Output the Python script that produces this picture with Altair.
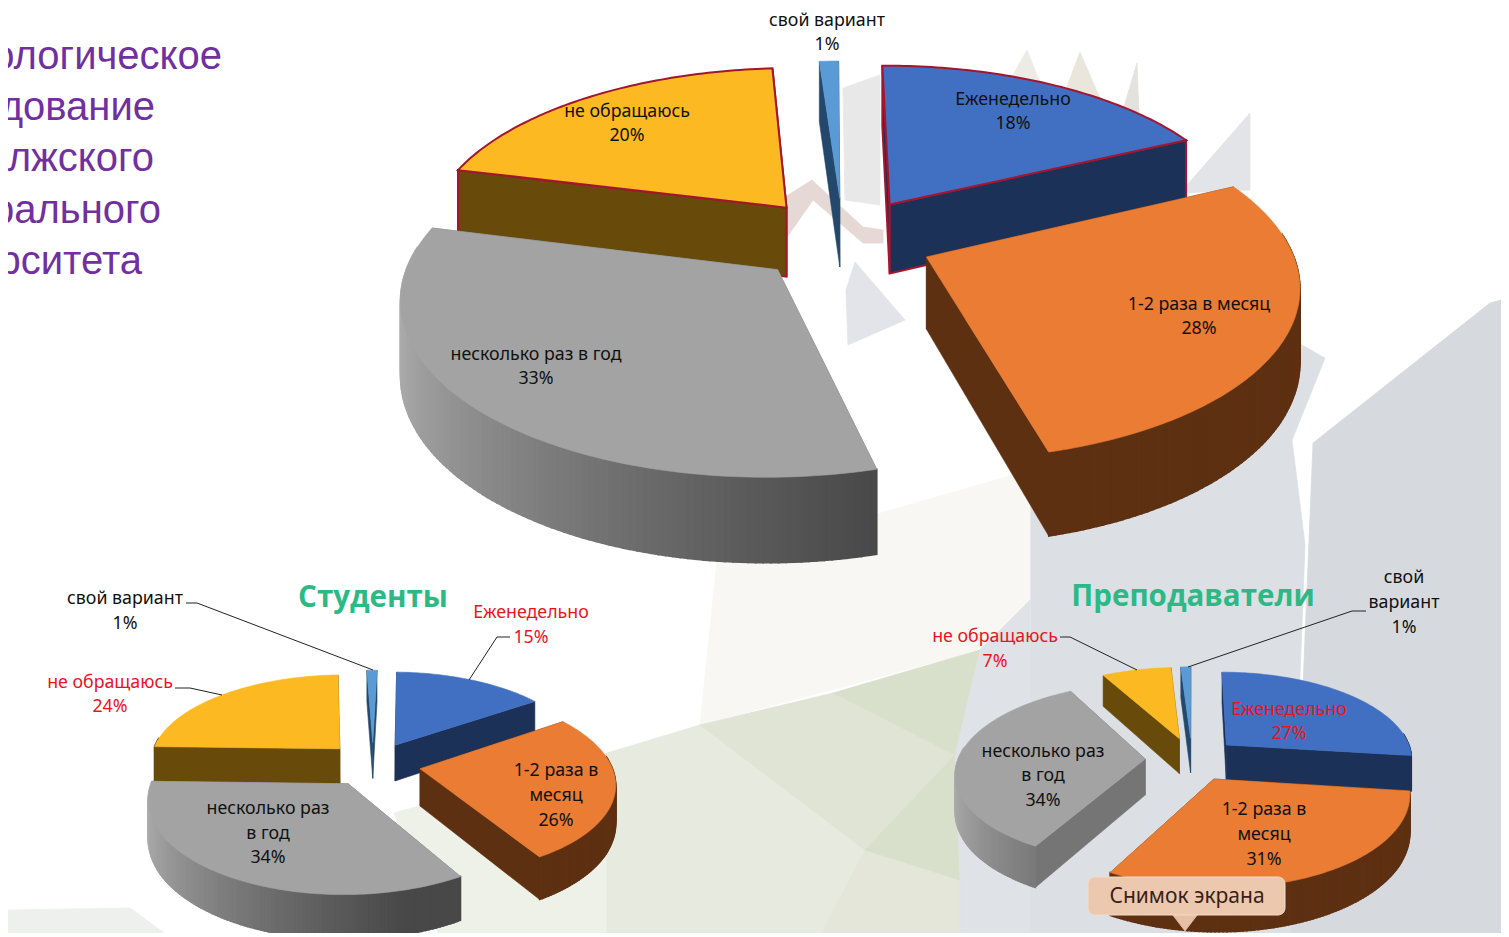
import math
import altair as alt
import pandas as pd

# ---------- data ----------
categories = ["Еженедельно", "1-2 раза в месяц", "несколько раз в год", "не обращаюсь", "свой вариант"]
main_values = [18, 28, 33, 20, 1]
students_values = [15, 26, 34, 24, 1]
teachers_values = [27, 31, 34, 7, 1]

top_colors = ["#4170C2", "#EA7C33", "#A3A3A3", "#FDB922", "#5B9BD5"]
side_colors = ["#1C3158", "#5E3012", "#808080", "#684A0A", "#24486C"]

# ---------- pie layout: centre, radii, perspective, depth, rotation, explosion ----------
pies = [
    dict(v=main_values, cx=843, cy=239, R=362, Rt=168, k=0.144, d=71, rot=-0.3, e=0.25, red=True),
    dict(v=students_values, cx=373, cy=764, R=191, Rt=88.6, k=0.144, d=37, rot=1.5, e=0.25, red=False),
    dict(v=teachers_values, cx=1192, cy=759, R=187, Rt=87, k=0.144, d=36, rot=0, e=0.25, red=False),
]

# ---------- faint decorative backdrop ----------
backdrop = [
    ("#d6dade", [(1313, 443), (1490, 303), (1509, 298), (1509, 937), (1250, 937), (1300, 760)]),
    ("#dcdfe4", [(1293, 340), (1325, 358), (1292, 440), (1305, 545), (1290, 937), (1030, 937), (1030, 500), (1060, 420)]),
    ("#f9f7f4", [(717, 560), (1030, 470), (1030, 640), (980, 650), (700, 725)]),
    ("#eef1e8", [(394, 813), (607, 753), (610, 937), (440, 937)]),
    ("#e6eadf", [(607, 753), (700, 725), (865, 850), (820, 937), (607, 937)]),
    ("#dfe4d4", [(700, 725), (833, 693), (955, 755), (865, 850)]),
    ("#d8dfca", [(833, 693), (980, 650), (955, 755)]),
    ("#e3e6d8", [(865, 850), (960, 880), (960, 937), (820, 937)]),
    ("#d8dfca", [(955, 755), (960, 880), (865, 850)]),
    ("#dfe2e6", [(980, 650), (1030, 600), (1030, 937), (960, 937), (960, 880), (955, 755)]),
    ("#ecebe6", [(1027, 50), (1045, 95), (1010, 80)]),
    ("#ebe6dc", [(1080, 52), (1105, 110), (1062, 100)]),
    ("#e4e2de", [(1137, 63), (1140, 140), (1120, 120)]),
    ("#e8e8e8", [(843, 88), (880, 75), (880, 205), (845, 200)]),
    ("#e6d9d5", [(785, 197), (812, 180), (863, 227), (883, 230), (883, 243), (863, 243), (813, 200), (785, 240)]),
    ("#e3e4e8", [(1180, 193), (1250, 113), (1250, 190)]),
    ("#e2e4e9", [(848, 345), (846, 290), (855, 262), (905, 320)]),
    ("#eef0ee", [(8, 910), (130, 908), (170, 937), (8, 937)]),
]

# ---------- labels ----------
BLACK = "#111111"
RED = "#E8141E"
label_text = [
    "свой вариант", f"{main_values[4]}%", "Еженедельно", f"{main_values[0]}%",
    "1-2 раза в месяц", f"{main_values[1]}%", "несколько раз в год", f"{main_values[2]}%",
    "не обращаюсь", f"{main_values[3]}%",
    "свой вариант", f"{students_values[4]}%", "Еженедельно", f"{students_values[0]}%",
    "не обращаюсь", f"{students_values[3]}%", "1-2 раза в", "месяц", f"{students_values[1]}%",
    "несколько раз", "в год", f"{students_values[2]}%",
    "свой", "вариант", f"{teachers_values[4]}%", "не обращаюсь", f"{teachers_values[3]}%",
    "Еженедельно", f"{teachers_values[0]}%", "1-2 раза в", "месяц", f"{teachers_values[1]}%",
    "несколько раз", "в год", f"{teachers_values[2]}%",
]
label_x = [827, 827, 1013, 1013, 1199, 1199, 536, 536, 627, 627,
           125, 125, 531, 531, 110, 110, 556, 556, 556, 268, 268, 268,
           1404, 1404, 1404, 995, 995, 1289, 1289, 1264, 1264, 1264, 1043, 1043, 1043]
label_y = [20, 44, 99, 123, 304, 328, 354, 378, 111, 135,
           598, 623, 612, 637, 682, 706, 770, 795, 820, 808, 833, 857,
           577, 602, 627, 636, 661, 709, 733, 809, 834, 859, 751, 775, 800]
label_color = [BLACK] * 10 + [BLACK, BLACK, RED, RED, RED, RED] + [BLACK] * 6 + \
              [BLACK, BLACK, BLACK, RED, RED, RED, RED] + [BLACK] * 6

chart_titles = ["Студенты", "Преподаватели"]
chart_title_x = [373, 1193]
chart_title_y = [597, 596]

heading_lines = ["Социологическое", "исследование", "Поволжского", "федерального", "университета"]
heading_right = [222, 155, 154, 161, 142]
heading_y = [56, 107, 158, 210, 261]

leader_x = [186, 197, 510, 497, 175, 190, 1060, 1070, 1366, 1352]
leader_y = [603, 603, 637, 637, 688, 688, 637, 637, 611, 611]
leader_x2 = [197, 373, 497, 469, 190, 222, 1070, 1137, 1352, 1188]
leader_y2 = [603, 670, 637, 680, 688, 695, 637, 670, 611, 667]

badge_text = "Снимок экрана"


# ---------- geometry from the percentages ----------
def hex_gray(level):
    level = int(max(0, min(255, level)))
    return f"#{level:02x}{level:02x}{level:02x}"


def feature(color, pts, stroke=None, width=0.8):
    ring = [[round(x, 2), round(y, 2)] for x, y in pts]
    ring.append(ring[0])
    return {"type": "Feature",
            "properties": {"c": color, "s": stroke or color, "w": width},
            "geometry": {"type": "Polygon", "coordinates": [ring]}}


def slice_features(p):
    out = []
    total = sum(p["v"])
    a0 = p["rot"]
    slices = []
    for i, val in enumerate(p["v"]):
        a1 = a0 + 360 * val / total
        slices.append((i, a0, a1))
        a0 = a1

    def mid_cos(s):
        return math.cos(math.radians((s[1] + s[2]) / 2))

    for i, a0, a1 in sorted(slices, key=mid_cos, reverse=True):
        mid = math.radians((a0 + a1) / 2)
        ox, oy = p["e"] * math.sin(mid), p["e"] * math.cos(mid)

        def proj(u, v):
            w = 1 + p["k"] * v
            return p["cx"] + p["R"] * u / w, p["cy"] - p["Rt"] * v / w, p["d"] / w

        def rim(deg):
            r = math.radians(deg)
            return ox + math.sin(r), oy + math.cos(r)

        steps = max(3, int((a1 - a0) / 1.0))
        angles = [a0 + (a1 - a0) * j / steps for j in range(steps + 1)]
        walls = []
        red = p["red"] and i in (0, 3)
        edge = "#A3162F" if red else None
        for j in range(steps):
            if math.cos(math.radians((angles[j] + angles[j + 1]) / 2)) > 0.12:
                continue  # the far side of the rim is hidden behind the top face
            u1, v1 = rim(angles[j])
            u2, v2 = rim(angles[j + 1])
            x1, y1, d1 = proj(u1, v1)
            x2, y2, d2 = proj(u2, v2)
            if i == 2:
                t = max(0.0, min(1.0, (math.sin(math.radians(angles[j])) + 1) / 1.28)) ** 0.7
                col = hex_gray(0xB4 - (0xB4 - 0x48) * t)
            else:
                col = side_colors[i]
            walls.append(((v1 + v2) / 2, feature(col, [(x1, y1), (x2, y2), (x2, y2 + d2), (x1, y1 + d1)], col, 1.5)))
        for deg in (a0, a1):
            u1, v1 = rim(deg)
            x1, y1, d1 = proj(u1, v1)
            x0, y0, d0 = proj(ox, oy)
            face = "#757575" if i == 2 else side_colors[i]
            walls.append(((v1 + oy) / 2, feature(face, [(x0, y0), (x1, y1), (x1, y1 + d1), (x0, y0 + d0)],
                                                 edge or face, 2 if red else 0.6)))
        for _, f in sorted(walls, key=lambda z: z[0], reverse=True):
            out.append(f)
        top = [proj(ox, oy)[:2]] + [proj(*rim(deg))[:2] for deg in angles]
        out.append(feature(top_colors[i], top, edge or top_colors[i], 2 if red else 0.6))
    return out


features = [feature(c, pts, c, 0.8) for c, pts in backdrop]
for pie in pies:
    features.extend(slice_features(pie))
features.append(feature("#E6BFA5", [(1172, 914), (1198, 914), (1185, 931)]))

W, H = 1493, 925
x_scale = alt.Scale(domain=[8, 8 + W], range=[0, W])
y_scale = alt.Scale(domain=[8, 8 + H], range=[0, H])
X = alt.X("x:Q", scale=x_scale, axis=None)
Y = alt.Y("y:Q", scale=y_scale, axis=None)

geo = alt.Chart(alt.Data(values={"type": "FeatureCollection", "features": features},
                         format=alt.DataFormat(property="features", type="json"))).mark_geoshape().encode(
    fill=alt.Fill("properties.c:N", scale=None),
    stroke=alt.Stroke("properties.s:N", scale=None),
    strokeWidth=alt.StrokeWidth("properties.w:Q", scale=None),
).project(type="identity", scale=1, translate=[-8, -8])

leaders = alt.Chart(pd.DataFrame({"x": leader_x, "y": leader_y, "x2": leader_x2, "y2": leader_y2})).mark_rule(
    color="#222222", strokeWidth=1).encode(X, Y, x2="x2:Q", y2="y2:Q")

labels = alt.Chart(pd.DataFrame({"x": label_x, "y": label_y, "t": label_text, "c": label_color})).mark_text(
    font="Noto Sans", fontSize=17.8, baseline="middle", align="center", dy=0.5).encode(
    X, Y, text="t:N", color=alt.Color("c:N", scale=None))

titles = alt.Chart(pd.DataFrame({"x": chart_title_x, "y": chart_title_y, "t": chart_titles})).mark_text(
    font="Open Sans", fontSize=29.5, fontWeight="bold", color="#2DB985", baseline="middle", align="center", dy=1).encode(
    X, Y, text="t:N")

heading = alt.Chart(pd.DataFrame({"x": heading_right, "y": heading_y, "t": heading_lines})).mark_text(
    font="Liberation Sans", fontSize=40, color="#7030A0", baseline="middle", align="right", clip=True, dy=1).encode(
    X, Y, text="t:N")

badge_box = alt.Chart(pd.DataFrame({"x": [1088], "x2": [1285], "y": [877], "y2": [915]})).mark_rect(
    fill="#ECC8AF", stroke="#F3DCCB", strokeWidth=1, cornerRadius=7).encode(X, Y, x2="x2:Q", y2="y2:Q")

badge = alt.Chart(pd.DataFrame({"x": [1187], "y": [896], "t": [badge_text]})).mark_text(
    font="Noto Sans", fontSize=21, color="#3A2015", baseline="middle", align="center", dy=1).encode(X, Y, text="t:N")

chart = alt.layer(geo, leaders, labels, titles, heading, badge_box, badge).properties(
    width=W, height=H, padding=0, autosize=alt.AutoSizeParams(type="none"), background="white"
).configure_view(stroke=None)

chart.save("out.html", embed_options={"renderer": "svg", "actions": False})
